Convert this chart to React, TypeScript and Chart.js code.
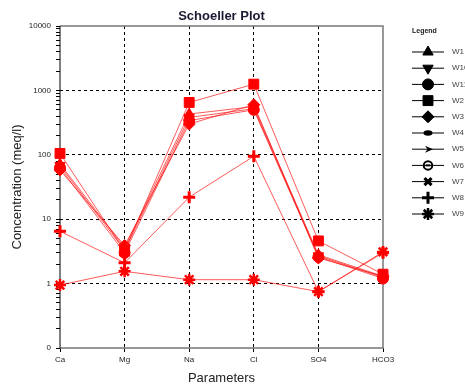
import React, { useEffect, useRef } from 'react';
import { Chart, registerables } from 'chart.js';
import { drawPoint } from 'chart.js/helpers';

Chart.register(...registerables);

const categories = ['Ca', 'Mg', 'Na', 'Cl', 'SO4', 'HCO3'];
const seriesNames = ['W1', 'W10', 'W11', 'W2', 'W3', 'W4', 'W5', 'W6', 'W7', 'W8', 'W9'];
const W1 = [72, 3.6, 430, 560, 2.8, 1.3];
const W10 = [68, 3.3, 380, 520, 2.7, 1.25];
const W11 = [63, 3.0, 340, 500, 2.6, 1.2];
const W2 = [105, 3.2, 650, 1250, 4.6, 1.4];
const W3 = [58, 3.9, 300, 600, 2.5, 1.3];
const W4: (number | null)[] = [null, null, null, null, null, null];
const W5: (number | null)[] = [null, null, null, null, null, null];
const W6: (number | null)[] = [null, null, null, null, null, null];
const W7: (number | null)[] = [null, null, null, null, null, null];
const W8 = [6.5, 2.1, 22, 95, 0.75, 3.0];
const W9 = [0.95, 1.55, 1.15, 1.15, 0.75, 3.1];
const seriesValues = [W1, W10, W11, W2, W3, W4, W5, W6, W7, W8, W9];
const yTickValues = [0.1, 1, 10, 100, 1000, 10000];
const yTickLabels = ['0', '1', '10', '100', '1000', '10000'];

type Mk = { style: string; rotation?: number; radius: number; bw: number };
const markers: Mk[] = [
  { style: 'triangle', radius: 6, bw: 1 },
  { style: 'triangle', rotation: 180, radius: 6, bw: 1 },
  { style: 'circle', radius: 5.5, bw: 1 },
  { style: 'rect', radius: 7, bw: 1 },
  { style: 'rectRot', radius: 6, bw: 1 },
  { style: 'pill', radius: 5, bw: 1 },
  { style: 'arrow', radius: 5, bw: 1 },
  { style: 'ocircle', radius: 5, bw: 2 },
  { style: 'crossRot', radius: 5, bw: 3 },
  { style: 'cross', radius: 6, bw: 3 },
  { style: 'star', radius: 6, bw: 2.5 },
];

const FONT = '"Liberation Sans", Arial, sans-serif';

function drawMarker(ctx: CanvasRenderingContext2D, m: Mk, x: number, y: number, scale: number) {
  const r = m.radius * scale;
  ctx.save();
  ctx.lineWidth = m.bw;
  if (m.style === 'pill') {
    ctx.beginPath();
    ctx.ellipse(x, y, r * 0.9, r * 0.55, 0, 0, Math.PI * 2);
    ctx.fill();
  } else if (m.style === 'arrow') {
    ctx.beginPath();
    ctx.moveTo(x + r, y);
    ctx.lineTo(x - r * 0.6, y - r * 0.7);
    ctx.lineTo(x - r * 0.1, y);
    ctx.lineTo(x - r * 0.6, y + r * 0.7);
    ctx.closePath();
    ctx.fill();
  } else if (m.style === 'ocircle') {
    ctx.lineWidth = 2;
    ctx.beginPath();
    ctx.arc(x, y, r * 0.85, 0, Math.PI * 2);
    ctx.stroke();
    ctx.fillRect(x - r * 0.45, y - 1, r * 0.9, 2);
  } else {
    drawPoint(ctx, { pointStyle: m.style as any, rotation: m.rotation || 0, radius: r, borderWidth: m.bw }, x, y);
  }
  ctx.restore();
}

const isMajor = (v: number) => Math.abs(Math.log10(v) - Math.round(Math.log10(v))) < 1e-6;

export default function App() {
  const ref = useRef<HTMLCanvasElement | null>(null);
  useEffect(() => {
    document.body.style.margin = '0';
    const canvas = ref.current!;
    const datasets = seriesNames.map((name, i) => ({
      label: name,
      data: seriesValues[i],
      borderColor: 'rgba(255,20,20,0.7)',
      borderWidth: 1,
      backgroundColor: '#ff0000',
      pointBackgroundColor: '#ff0000',
      pointBorderColor: '#ff0000',
      pointStyle: ['pill', 'arrow', 'ocircle'].includes(markers[i].style) ? 'circle' : markers[i].style,
      rotation: markers[i].rotation || 0,
      pointRadius: markers[i].radius,
      pointBorderWidth: markers[i].bw,
      clip: false as any,
      spanGaps: false,
    }));

    const framePlugin = {
      id: 'frame',
      beforeDatasetsDraw(chart: any) {
        const { ctx, chartArea: a } = chart;
        ctx.save();
        ctx.strokeStyle = '#777';
        ctx.lineWidth = 1.5;
        ctx.beginPath();
        ctx.moveTo(a.left, a.top);
        ctx.lineTo(a.right, a.top);
        ctx.lineTo(a.right, a.bottom);
        ctx.lineTo(a.left, a.bottom);
        ctx.stroke();
        ctx.strokeStyle = '#000';
        ctx.lineWidth = 1;
        ctx.beginPath();
        ctx.moveTo(a.left, a.top);
        ctx.lineTo(a.left, a.bottom);
        ctx.stroke();
        ctx.restore();
      },
      afterDraw(chart: any) {
        const { ctx, chartArea: a } = chart;
        ctx.save();
        ctx.fillStyle = '#1a1a33';
        ctx.font = `bold 13px ${FONT}`;
        ctx.textAlign = 'center';
        ctx.textBaseline = 'middle';
        ctx.fillText('Schoeller Plot', (a.left + a.right) / 2, 16);
        // legend
        ctx.fillStyle = '#222';
        ctx.font = `bold 7px ${FONT}`;
        ctx.textAlign = 'left';
        ctx.fillText('Legend', 412, 31);
        seriesNames.forEach((name, i) => {
          const y = 52 + i * 16.2;
          ctx.strokeStyle = '#000';
          ctx.lineWidth = 1;
          ctx.beginPath();
          ctx.moveTo(412, y);
          ctx.lineTo(444, y);
          ctx.stroke();
          ctx.fillStyle = '#000';
          ctx.strokeStyle = '#000';
          drawMarker(ctx, markers[i], 428, y, 1);
          ctx.fillStyle = '#444';
          ctx.font = `8px ${FONT}`;
          ctx.textBaseline = 'middle';
          ctx.fillText(name, 452, y);
        });
        ctx.restore();
      },
    };

    const chart = new Chart(canvas, {
      type: 'line',
      data: { labels: categories, datasets },
      options: {
        animation: false,
        responsive: false,
        maintainAspectRatio: false,
        layout: { padding: { top: 26, right: 82, left: 0, bottom: 0 } },
        plugins: { legend: { display: false }, tooltip: { enabled: false }, title: { display: false } },
        scales: {
          x: {
            type: 'category',
            offset: false,
            afterFit: (s: any) => { s.height = 39; },
            grid: {
              color: (c: any) => (c.index === 0 || c.index === categories.length - 1 ? 'rgba(0,0,0,0)' : '#000'),
              tickColor: '#000',
              tickLength: 4,
              lineWidth: 1,
            },
            border: { display: false, dash: [3, 3] },
            ticks: { color: '#222', font: { family: FONT, size: 8 }, padding: 3, maxRotation: 0 },
            title: { display: true, text: 'Parameters', color: '#222', font: { family: FONT, size: 13 }, padding: { top: 0, bottom: 1 } },
          },
          y: {
            type: 'logarithmic',
            min: yTickValues[0],
            max: yTickValues[yTickValues.length - 1],
            afterFit: (s: any) => { s.width = 60; },
            afterBuildTicks: (s: any) => {
              s.ticks = s.ticks.filter((t: any) => {
                const m = t.value / Math.pow(10, Math.floor(Math.log10(t.value) + 1e-9));
                return Math.abs(m - Math.round(m)) < 1e-6;
              });
            },
            grid: {
              color: (c: any) => {
                const v = c.tick && c.tick.value;
                if (!v || !isMajor(v)) return 'rgba(0,0,0,0)';
                if (v <= yTickValues[0] * 1.0001 || v >= yTickValues[yTickValues.length - 1] * 0.9999) return 'rgba(0,0,0,0)';
                return '#000';
              },
              tickColor: '#000',
              tickLength: 4,
              lineWidth: 1,
            },
            border: { display: false, dash: [3, 3] },
            ticks: {
              autoSkip: false,
              color: '#222',
              font: { family: FONT, size: 8 },
              padding: 5,
              callback: (v: any) => {
                const idx = yTickValues.findIndex((t) => Math.abs(t - v) / t < 1e-6);
                return idx >= 0 ? yTickLabels[idx] : '';
              },
            },
            title: { display: true, text: 'Concentration (meq/l)', color: '#222', font: { family: FONT, size: 13 }, padding: { top: 10, bottom: 0 } },
          },
        },
      },
      plugins: [framePlugin],
    } as any);
    return () => chart.destroy();
  }, []);
  return (
    <div style={{ position: 'absolute', left: 0, top: 0, width: 465, height: 387, background: '#fff' }}>
      <canvas ref={ref} width={465} height={387} style={{ width: 465, height: 387, display: 'block' }} />
    </div>
  );
}
